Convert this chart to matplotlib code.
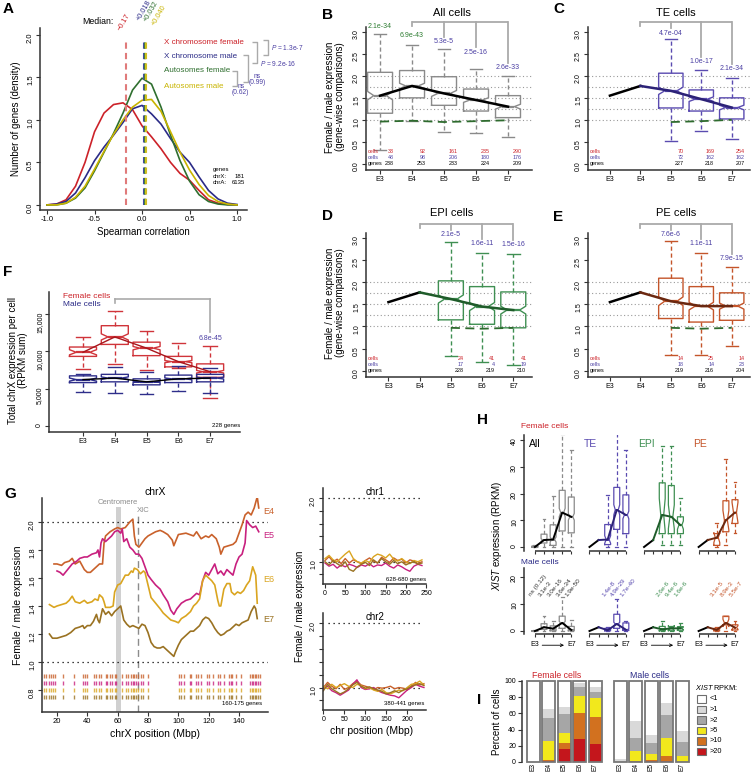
import numpy as np
import matplotlib
matplotlib.use("Agg")
import matplotlib.pyplot as plt
import matplotlib.transforms as mtransforms
from matplotlib.patches import Rectangle

plt.rcParams['font.family'] = ['Liberation Sans', 'DejaVu Sans']
plt.rcParams['mathtext.fontset'] = 'custom'
plt.rcParams['mathtext.rm'] = 'Liberation Sans'
plt.rcParams['mathtext.it'] = 'Liberation Sans:italic'
plt.rcParams['axes.unicode_minus'] = False

# ======================= DATA =======================
stages = ["E3", "E4", "E5", "E6", "E7"]
stage_x = [1, 2, 3, 4, 5]

# ---- Panel A: density of Spearman correlations ----
dens_x = [-1.0, -0.9, -0.8, -0.7, -0.6, -0.5, -0.4, -0.3, -0.2, -0.1, 0.0,
          0.1, 0.2, 0.3, 0.4, 0.5, 0.6, 0.7, 0.8, 0.9, 1.0]
dens_x_female = [0.0, 0.01, 0.06, 0.22, 0.50, 0.86, 1.08, 1.18, 1.20, 1.12, 0.93,
                 0.80, 0.66, 0.50, 0.37, 0.29, 0.17, 0.06, 0.02, 0.005, 0.0]
dens_x_male = [0.0, 0.01, 0.04, 0.14, 0.32, 0.52, 0.68, 0.82, 0.97, 1.13, 1.17,
               1.07, 0.95, 0.78, 0.62, 0.50, 0.33, 0.17, 0.07, 0.02, 0.005]
dens_a_female = [0.0, 0.0, 0.02, 0.08, 0.20, 0.40, 0.62, 0.84, 1.08, 1.35, 1.49,
                 1.42, 1.15, 0.82, 0.52, 0.28, 0.12, 0.04, 0.01, 0.0, 0.0]
dens_a_male = [0.0, 0.0, 0.02, 0.09, 0.22, 0.42, 0.63, 0.83, 1.00, 1.15, 1.23,
               1.24, 1.10, 0.86, 0.62, 0.41, 0.24, 0.11, 0.04, 0.01, 0.0]
medians_A = [-0.17, 0.018, 0.032, 0.040]
median_labels_A = ["\u22120.17", "+0.018", "+0.032", "+0.040"]
legend_A = ["X chromosome female", "X chromosome male", "Autosomes female", "Autosomes male"]

# ---- Panels B-E: female/male ratio boxplots ----
ratio_grid = [1.0, 1.25, 1.5, 1.75, 2.0]
B_lo = [0.32, 0.98, 0.72, 0.70, 0.60]
B_q1 = [1.15, 1.50, 1.33, 1.20, 1.05]
B_med = [1.55, 1.77, 1.60, 1.45, 1.30]
B_q3 = [2.08, 2.12, 1.98, 1.70, 1.55]
B_hi = [2.95, 2.70, 2.60, 2.15, 2.00]
B_auto = [0.96, 0.98, 0.95, 0.97, 0.99]
B_pval = ["2.1e-34", "6.9e-43", "5.3e-5", "2.5e-16", "2.6e-33"]
B_cells_f = [33, 92, 161, 235, 290]
B_cells_m = [48, 98, 206, 180, 176]
B_genes = [238, 253, 233, 224, 209]

C_lo = [0.52, 0.75, 0.57]
C_q1 = [1.27, 1.20, 1.02]
C_med = [1.66, 1.47, 1.28]
C_q3 = [2.06, 1.68, 1.50]
C_hi = [2.83, 2.13, 1.95]
C_auto = [0.95, 0.97, 1.00]
C_pval = ["4.7e-04", "1.0e-17", "2.1e-34"]
C_cells_f = [70, 169, 254]
C_cells_m = [72, 162, 162]
C_genes = [227, 218, 207]

D_lo = [0.34, 0.20, 0.13]
D_q1 = [1.15, 1.05, 0.97]
D_med = [1.62, 1.45, 1.37]
D_q3 = [2.03, 1.90, 1.78]
D_hi = [2.90, 2.66, 2.63]
D_auto = [0.97, 0.95, 0.97]
D_pval = ["2.1e-5", "1.6e-11", "1.5e-16"]
D_cells_f = [24, 41, 41]
D_cells_m = [17, 4, 19]
D_genes = [228, 219, 210]

E_lo = [0.35, 0.35, 0.56]
E_q1 = [1.18, 1.10, 1.14]
E_med = [1.57, 1.46, 1.46]
E_q3 = [2.09, 1.90, 1.76]
E_hi = [2.92, 2.66, 2.34]
E_auto = [0.97, 0.95, 0.97]
E_pval = ["7.6e-6", "1.1e-11", "7.9e-15"]
E_cells_f = [14, 25, 14]
E_cells_m = [18, 14, 23]
E_genes = [219, 216, 204]

# ---- Panel F: total chrX expression per cell ----
F_f_lo = [7600, 8300, 7500, 7700, 3700]
F_f_q1 = [9300, 10900, 9400, 7900, 6500]
F_f_med = [9850, 11900, 10400, 8600, 7250]
F_f_q3 = [10550, 13400, 11200, 9300, 8300]
F_f_hi = [11900, 15400, 12700, 11050, 10650]
F_m_lo = [4600, 4400, 4300, 4700, 4400]
F_m_q1 = [5800, 5900, 5500, 5800, 5900]
F_m_med = [6200, 6400, 5900, 6300, 6400]
F_m_q3 = [6700, 6900, 6300, 6800, 6900]
F_m_hi = [6900, 7900, 7200, 8000, 7800]
F_pval = "6.8e-45"

# ---- Panel G: chrX sliding-window ratio ----
G_E4_x = [18, 20, 23, 25, 28, 30, 32, 35, 38, 40, 42, 45, 48, 50, 51, 52, 55, 58, 60, 62,
          65, 68, 70, 71, 72, 74, 76, 78, 80, 85, 88, 90, 93, 96, 97, 100, 105, 110, 112, 115,
          118, 120, 122, 125, 127, 128, 130, 133, 136, 138, 140, 142, 144, 146, 148, 150, 152, 153]
G_E4_y = [1.70, 1.70, 1.69, 1.71, 1.72, 1.74, 1.70, 1.72, 1.66, 1.64, 1.64, 1.67, 1.70, 1.70, 1.85, 1.90, 1.93, 1.95, 1.96, 1.95,
          1.96, 2.00, 2.02, 1.90, 1.84, 1.82, 1.85, 1.88, 1.90, 1.93, 1.94, 1.93, 1.91, 1.87, 1.83, 1.91, 1.92, 1.90, 1.93, 1.88,
          1.90, 1.89, 1.91, 1.88, 1.82, 1.77, 1.82, 1.83, 1.84, 1.86, 1.92, 1.98, 2.05, 2.07, 2.05, 2.10, 2.18, 2.10]
G_E5_x = [20, 22, 24, 27, 30, 33, 35, 38, 40, 43, 46, 47, 48, 49, 50, 52, 54, 56, 58, 60,
          62, 63, 64, 66, 68, 70, 72, 74, 76, 78, 80, 82, 85, 88, 90, 93, 95, 97, 99, 102,
          105, 108, 110, 112, 114, 116, 118, 120, 122, 124, 126, 128, 130, 132, 134, 136, 138, 140, 142, 144,
          145, 147, 149, 151, 153]
G_E5_y = [1.65, 1.64, 1.62, 1.66, 1.70, 1.72, 1.74, 1.75, 1.75, 1.77, 1.78, 1.80, 1.75, 1.85, 1.88, 1.86, 1.88, 1.90, 1.93, 1.94,
          1.92, 1.95, 1.86, 1.88, 1.82, 1.80, 1.77, 1.77, 1.74, 1.68, 1.62, 1.59, 1.55, 1.52, 1.48, 1.43, 1.37, 1.34, 1.38, 1.42,
          1.44, 1.45, 1.47, 1.49, 1.48, 1.58, 1.64, 1.62, 1.66, 1.70, 1.63, 1.65, 1.62, 1.66, 1.64, 1.62, 1.70, 1.75, 1.77, 1.85,
          2.01, 1.98, 1.96, 1.97, 1.93]
G_E6_x = [15, 18, 20, 23, 26, 28, 30, 32, 35, 38, 40, 43, 45, 47, 48, 50, 51, 52, 55, 57,
          58, 60, 62, 64, 65, 67, 69, 70, 71, 73, 75, 77, 78, 80, 82, 85, 88, 90, 93, 95,
          98, 100, 102, 105, 108, 110, 112, 114, 116, 118, 120, 122, 124, 126, 127, 128, 130, 132, 134, 135,
          137, 139, 141, 143, 145, 147, 149, 151, 152]
G_E6_y = [1.41, 1.39, 1.40, 1.41, 1.42, 1.44, 1.47, 1.43, 1.42, 1.44, 1.42, 1.43, 1.45, 1.44, 1.48, 1.46, 1.43, 1.39, 1.39, 1.40,
          1.50, 1.55, 1.56, 1.60, 1.62, 1.62, 1.65, 1.64, 1.67, 1.66, 1.63, 1.65, 1.64, 1.55, 1.46, 1.42, 1.38, 1.35, 1.32, 1.30,
          1.29, 1.28, 1.31, 1.33, 1.36, 1.40, 1.42, 1.45, 1.58, 1.62, 1.60, 1.58, 1.55, 1.44, 1.40, 1.40, 1.52, 1.56, 1.56, 1.50,
          1.48, 1.50, 1.49, 1.51, 1.55, 1.58, 1.68, 1.62, 1.42]
G_E7_x = [15, 17, 20, 23, 26, 29, 32, 35, 37, 38, 40, 42, 44, 46, 47, 48, 50, 52, 54, 56,
          58, 60, 62, 64, 66, 68, 70, 72, 74, 76, 78, 80, 82, 84, 86, 88, 90, 93, 96, 97,
          98, 100, 102, 104, 106, 108, 110, 112, 114, 116, 118, 120, 122, 124, 126, 128, 130, 132, 134, 136,
          138, 140, 142, 144, 146, 148, 150, 151, 152]
G_E7_y = [1.20, 1.17, 1.17, 1.18, 1.19, 1.21, 1.24, 1.25, 1.26, 1.24, 1.26, 1.26, 1.29, 1.34, 1.30, 1.28, 1.38, 1.34, 1.36, 1.33,
          1.36, 1.38, 1.40, 1.30, 1.27, 1.25, 1.26, 1.25, 1.24, 1.27, 1.26, 1.21, 1.14, 1.11, 1.10, 1.10, 1.11, 1.08, 1.05, 1.04,
          1.07, 1.12, 1.16, 1.18, 1.20, 1.22, 1.22, 1.24, 1.26, 1.30, 1.32, 1.31, 1.28, 1.24, 1.21, 1.19, 1.20, 1.22, 1.23, 1.25,
          1.27, 1.26, 1.28, 1.29, 1.30, 1.36, 1.40, 1.38, 1.31]
gene_pos = [11.5, 13, 14.5, 16, 17.5, 19, 24, 31, 37, 38.5, 40, 44.4, 46, 48, 49.2, 52, 53, 54.7, 56, 58,
            59, 63, 65.3, 66.8, 69, 70, 71, 72.3, 73.4, 75.6, 76.7, 80, 100.4, 102, 103.5, 107.5, 108.6, 111.9,
            113, 115, 119, 120, 122.9, 126, 127.2, 130, 133.4, 134.5, 135.6, 138, 141.5, 147.5, 148.5, 149.5,
            150.5, 151.5, 152.5, 153.5]
gene_rows = [0.90, 0.85, 0.80, 0.75]

chr_pos = [0, 10, 20, 30, 40, 50, 60, 70, 80, 90, 100, 110, 120, 130, 140, 150, 160, 170, 180, 190,
           200, 210, 220, 230, 240]
chr1_E4 = [1.02, 1.08, 1.00, 1.04, 0.97, 1.05, 0.98, 1.03, 1.00, 0.97, 1.02, 1.06, 1.01, 0.98, 1.07, 1.03, 0.99, 1.06, 1.02, 1.04, 0.98, 1.03, 1.01, 0.97, 1.00]
chr1_E5 = [0.98, 0.93, 0.96, 0.90, 0.95, 0.92, 0.96, 0.94, 0.91, 0.95, 0.93, 0.97, 0.92, 0.95, 0.94, 0.98, 0.93, 0.90, 0.95, 0.92, 0.88, 0.85, 0.93, 0.96, 0.94]
chr1_E6 = [1.05, 1.10, 1.03, 1.00, 1.06, 1.12, 1.17, 1.05, 1.00, 0.98, 1.02, 0.99, 1.08, 1.12, 1.10, 1.06, 1.12, 1.04, 1.01, 1.05, 1.00, 0.97, 1.02, 1.00, 1.03]
chr1_E7 = [1.00, 0.95, 1.02, 0.97, 0.93, 1.00, 0.88, 0.85, 0.92, 0.96, 0.99, 0.94, 1.03, 0.98, 1.05, 1.00, 0.96, 1.02, 0.97, 1.00, 0.95, 0.98, 1.00, 0.96, 0.98]
chr2_E4 = [1.00, 1.08, 1.02, 0.98, 1.05, 0.97, 1.00, 1.06, 1.10, 1.04, 1.02, 1.00, 0.97, 1.00, 0.99, 1.00, 1.02, 0.98, 1.00, 0.99, 0.96, 1.02, 1.08, 1.04, 1.06]
chr2_E5 = [0.98, 1.02, 0.95, 0.92, 0.88, 0.92, 0.96, 1.05, 1.12, 1.00, 0.97, 0.98, 1.00, 0.95, 0.92, 0.90, 0.88, 0.87, 0.84, 0.90, 0.96, 1.00, 1.05, 1.02, 1.00]
chr2_E6 = [1.02, 0.98, 1.05, 1.00, 1.03, 1.06, 1.02, 1.00, 1.05, 1.03, 0.98, 1.00, 0.96, 0.94, 0.97, 0.92, 0.90, 0.93, 0.96, 0.95, 1.00, 1.05, 1.06, 1.10, 1.04]
chr2_E7 = [0.95, 1.05, 0.98, 0.94, 0.90, 0.93, 0.98, 1.04, 1.08, 1.02, 0.99, 1.01, 0.98, 0.96, 0.94, 0.90, 0.92, 0.95, 0.92, 0.96, 0.98, 1.02, 1.04, 1.06, 1.03]

# ---- Panel H: XIST expression ----
H_groups = ["All", "TE", "EPI", "PE"]
Hf_all = dict(lo=[0, 0, 0, 0, 0], q1=[0, 1.5, 0.6, 6.0, 5.3], med=[0, 2.6, 2.8, 12.9, 11.3],
              q3=[0.4, 4.8, 8.3, 21.2, 18.7], hi=[0.6, 10.3, 19.2, 42.2, 36.3])
Hf_te = dict(lo=[0, 0, 0], q1=[0.9, 6.6, 5.0], med=[2.8, 13.9, 12.0], q3=[8.4, 22.3, 19.5], hi=[19.5, 44.8, 36.3])
Hf_epi = dict(lo=[0.9, 0.9, 0.9], q1=[5.0, 5.0, 5.0], med=[12.0, 11.3, 8.2], q3=[24.0, 23.0, 11.3], hi=[37.6, 37.6, 18.4])
Hf_pe = dict(lo=[0, 0.6, 5.4], q1=[0.6, 5.7, 8.8], med=[3.5, 10.0, 12.9], q3=[5.0, 17.3, 17.7], hi=[8.8, 33.0, 24.2])
Hm_all = dict(lo=[0, 0, 0, 0, 0], q1=[0, 0.6, 0.1, 1.0, 0.1], med=[0, 1.4, 0.9, 3.0, 0.4],
              q3=[0.1, 2.7, 1.9, 5.5, 1.7], hi=[0.3, 5.5, 3.6, 12.6, 4.2])
Hm_te = dict(lo=[0, 0, 0], q1=[0.1, 1.0, 0.4], med=[0.3, 2.6, 0.5], q3=[1.0, 6.2, 3.0], hi=[1.6, 11.9, 3.6])
Hm_epi = dict(lo=[0, 0, 0], q1=[0.1, 0.3, 0.3], med=[0.6, 1.0, 1.0], q3=[1.7, 1.6, 1.6], hi=[3.6, 1.7, 3.0])
Hm_pe = dict(lo=[0, 0, 0], q1=[0.1, 2.3, 0.4], med=[0.4, 3.0, 1.3], q3=[1.0, 5.5, 2.3], hi=[1.5, 5.5, 3.6])
Hm_pval_all = ["ns (0.12)", "3.1e-3", "3.0e-16", "3.6e-34", "1.9e-50"]
Hm_pval_te = ["1.4e-8", "4.9e-29", "1.7e-40"]
Hm_pval_epi = ["2.6e-6", "9.4e-6", "1.6e-6"]
Hm_pval_pe = ["3.1e-5", "8.9e-3", "5.5e-7"]

# ---- Panel I: percent of cells by XIST RPKM ----
I_labels = ["E3", "E4", "E5", "E6", "E7", "E3", "E4", "E5", "E6", "E7"]
I_gt20 = [0, 1.5, 16, 28, 22, 0, 0.5, 1, 1, 0]
I_gt10 = [0, 1.5, 7, 32, 33, 0, 0.5, 2, 6, 0.5]
I_gt5 = [0, 23, 13, 21, 24, 0, 13, 7, 22, 6.5]
I_gt2 = [0, 28, 23, 12, 8, 0, 15, 13, 29, 18]
I_gt1 = [0, 11, 9, 4, 5, 4, 21, 10, 15, 13]
I_lt1 = [100, 35, 32, 3, 8, 96, 50, 67, 27, 62]
I_cat_names = [">20", ">10", ">5", ">2", ">1", "<1"]

# ======================= STYLE =======================
C_XF = '#cc2229'; C_XM = '#2b2b87'; C_AF = '#2f6f2f'; C_AM = '#c8b400'
C_PB = '#4b3fa3'; C_PG = '#2e7d32'
C_GRAY = '#8a8a8a'
TE_C, TE_L = '#5a4bb0', '#2c2277'
EPI_C, EPI_L = '#3f8f52', '#1f5c2a'
PE_C, PE_L = '#c4552a', '#6b2810'
AUTO_C = '#2e6b2e'
GE4, GE5, GE6, GE7 = '#c9612b', '#c8207f', '#daa520', '#9a7222'
SP = '#333333'
BR = '#aaaaaa'
DASH = (0, (3, 2))

W, H = 754, 774
fig = plt.figure(figsize=(W / 100, H / 100), dpi=100)


def axpx(x0, y0, x1, y1):
    return fig.add_axes([x0 / W, 1 - y1 / H, (x1 - x0) / W, (y1 - y0) / H])


def rstyle(ax, ysize=5.0, xsize=5.0, yrot=90):
    for s in ('top', 'right'):
        ax.spines[s].set_visible(False)
    for s in ('left', 'bottom'):
        ax.spines[s].set_linewidth(1.1)
        ax.spines[s].set_color(SP)
    ax.tick_params(direction='out', length=2.8, width=0.8, color=SP, pad=1.5)
    ax.tick_params(axis='y', labelsize=ysize, labelrotation=yrot)
    ax.tick_params(axis='x', labelsize=xsize)


def draw_boxes(ax, pos, lo, q1, med, q3, hi, n, color, width=0.78, lw=1.0):
    stats = []
    for i in range(len(pos)):
        half = 1.58 * (q3[i] - q1[i]) / np.sqrt(n[i])
        stats.append(dict(med=med[i], q1=q1[i], q3=q3[i], whislo=lo[i], whishi=hi[i],
                          cilo=med[i] - half, cihi=med[i] + half, fliers=[]))
    ax.bxp(stats, positions=pos, widths=width, shownotches=True, showfliers=False,
           boxprops=dict(color=color, lw=lw), whiskerprops=dict(color=color, lw=lw, ls=DASH),
           capprops=dict(color=color, lw=lw), medianprops=dict(color=color, lw=lw * 1.6),
           manage_ticks=False)


# overlay for free text in pixel coordinates
ov = fig.add_axes([0, 0, 1, 1], zorder=20)
ov.set_xlim(0, W); ov.set_ylim(H, 0); ov.axis('off'); ov.patch.set_visible(False)


def T(x, y, s, size=6, color='black', ha='center', va='center', **kw):
    ov.text(x, y, s, fontsize=size, color=color, ha=ha, va=va, **kw)


def L(xs, ys, color=BR, lw=1.0):
    ov.plot(xs, ys, color=color, lw=lw, solid_capstyle='butt')


for lab, (x, y) in zip("ABCDEFGHI", [(3, 9), (322, 15), (553, 9), (322, 216), (553, 217),
                                      (3, 272), (4, 494), (477, 420), (477, 700)]):
    T(x, y, lab, size=11, weight='bold', ha='left')

# ======================= PANEL A =======================
axA = axpx(40, 28, 247, 210)
rstyle(axA, ysize=5.5, xsize=5.5)
axA.set_xlim(-1.074, 1.105); axA.set_ylim(-0.06, 2.08)
for ys, c in ((dens_x_female, C_XF), (dens_x_male, C_XM), (dens_a_female, C_AF), (dens_a_male, C_AM)):
    axA.plot(dens_x, ys, color=c, lw=1.2)
med_cols = ['#e07a7a', '#4848a8', '#3c7d3c', '#d0be20']
for m, c in zip(medians_A, med_cols):
    axA.plot([m, m], [0, 1.94], color=c, lw=1.5, ls=(0, (3, 2)))
medlab_x = [-0.195, 0.026, 0.10, 0.179]
medlab_y = [2.035, 2.153, 2.141, 2.094]
for lx, ly, s, c in zip(medlab_x, medlab_y, median_labels_A, [C_XF, C_XM, C_AF, C_AM]):
    axA.text(lx, ly, s, rotation=60, ha='center', va='bottom', fontsize=5.3, color=c, clip_on=False)
axA.set_xticks([-1.0, -0.5, 0.0, 0.5, 1.0], labels=["-1.0", "-0.5", "0.0", "0.5", "1.0"])
axA.set_yticks([0, 0.5, 1.0, 1.5, 2.0], labels=["0.0", "0.5", "1.0", "1.5", "2.0"])
axA.set_xlabel("Spearman correlation", fontsize=7, labelpad=3)
axA.set_ylabel("Number of genes (density)", fontsize=7, labelpad=4)
T(98, 22, "Median:", size=6.3)
for s, c, y in zip(legend_A, [C_XF, C_XM, C_AF, C_AM], [42, 57, 71, 86]):
    T(164, y, s, size=5.8, color=c, ha='left')
# significance brackets
L([232, 236.5, 236.5, 232], [71, 71, 86, 86])
T(238, 86, "ns", size=4.8, color=C_PB, ha='left')
T(240.5, 93, "(0.62)", size=4.8, color=C_PB)
L([243, 248, 248, 243], [55, 55, 82, 82])
T(257, 76, "ns", size=4.8, color=C_PB)
T(257, 83, "(0.99)", size=4.8, color=C_PB)
L([252, 257, 257, 252], [42, 42, 63, 63])
T(260, 63, r"$P$ = 9.2e-16", size=4.8, color=C_PB, ha='left')
L([263, 268, 268, 263], [40, 40, 55, 55])
T(271, 48, r"$P$ = 1.3e-7", size=4.8, color=C_PB, ha='left')
T(213, 170, "genes", size=4.3, ha='left')
T(213, 176, "chrX:", size=4.3, ha='left'); T(245, 176, "181", size=4.3, ha='right')
T(213, 182, "chrA:", size=4.3, ha='left'); T(245, 182, "6135", size=4.3, ha='right')


# ======================= PANELS B-E =======================
def ratio_panel(rect, xlim, box_pos, lo, q1, med, q3, hi, n, bcol, tcol, auto, pv, pvcol,
                pvy, bracket_y, cf, cm, gn, title, width):
    ax = axpx(*rect)
    rstyle(ax)
    ax.set_xlim(*xlim); ax.set_ylim(-0.14, 3.11)
    for v in ratio_grid:
        ax.axhline(v, color='#9a9a9a', ls=(0, (1, 2.2)), lw=0.8, zorder=0)
    draw_boxes(ax, box_pos, lo, q1, med, q3, hi, n, bcol, width=width)
    if len(box_pos) == 5:
        ax.plot(box_pos, med, color='black', lw=1.8, zorder=5)
    else:
        ax.plot(stage_x[:2], B_med[:2], color='black', lw=1.8, zorder=5)
        ax.plot([stage_x[1]] + box_pos, [B_med[1]] + med, color=tcol, lw=1.8, zorder=5)
    ax.plot(box_pos, auto, color=AUTO_C, lw=1.3, ls=(0, (5, 3)), zorder=4)
    for x, s, c, y in zip(box_pos, pv, pvcol, pvy):
        ax.text(x, y, s, fontsize=5, color=c, ha='center', va='center', clip_on=False)
    # comparison bracket
    ax.plot([stage_x[1], stage_x[4]], [bracket_y, bracket_y], color=BR, lw=1.3, clip_on=False,
            solid_capstyle='butt')
    ax.plot([stage_x[1], stage_x[1]], [bracket_y, bracket_y - 0.1], color=BR, lw=1.3, clip_on=False)
    for x, y in zip(box_pos, pvy):
        if x > stage_x[1]:
            ax.plot([x, x], [bracket_y, y + 0.11], color=BR, lw=1.3, clip_on=False)
    tr = mtransforms.blended_transform_factory(ax.transAxes, ax.transData)
    for lab, c, y in (("cells", C_XF, 0.28), ("cells", C_PB, 0.14), ("genes", 'black', 0.0)):
        ax.text(0.012, y, lab, transform=tr, fontsize=3.9, color=c, ha='left', va='center')
    for x, a, b, g in zip(box_pos, cf, cm, gn):
        ax.text(x + 0.42, 0.28, str(a), fontsize=3.9, color=C_XF, ha='right', va='center')
        ax.text(x + 0.42, 0.14, str(b), fontsize=3.9, color=C_PB, ha='right', va='center')
        ax.text(x + 0.42, 0.0, str(g), fontsize=3.9, color='black', ha='right', va='center')
    ax.set_xticks(stage_x, labels=stages)
    ax.set_yticks([0, 0.5, 1.0, 1.5, 2.0, 2.5, 3.0],
                  labels=["0.0", "0.5", "1.0", "1.5", "2.0", "2.5", "3.0"])
    T(title[1], title[2], title[0], size=8)
    return ax


ratio_panel((366, 27, 532, 170), (0.56, 5.75), stage_x, B_lo, B_q1, B_med, B_q3, B_hi, B_genes,
            C_GRAY, 'black', B_auto, B_pval, [C_PG, C_PG, C_PB, C_PB, C_PB],
            [3.12, 2.91, 2.78, 2.54, 2.18], 3.23, B_cells_f, B_cells_m, B_genes,
            ("All cells", 452, 13), 0.78)
ratio_panel((588, 27, 750, 170), (0.28, 5.6), stage_x[2:], C_lo, C_q1, C_med, C_q3, C_hi, C_genes,
            TE_C, TE_L, C_auto, C_pval, [C_PB] * 3, [2.97, 2.32, 2.16], 3.23,
            C_cells_f, C_cells_m, C_genes, ("TE cells", 676, 13), 0.8)
ratio_panel((366, 233, 532, 377), (0.28, 5.6), stage_x[2:], D_lo, D_q1, D_med, D_q3, D_hi, D_genes,
            EPI_C, EPI_L, D_auto, D_pval, [C_PB] * 3, [3.07, 2.87, 2.85], 3.32,
            D_cells_f, D_cells_m, D_genes, ("EPI cells", 452, 213), 0.8)
ratio_panel((588, 233, 750, 377), (0.28, 5.6), stage_x[2:], E_lo, E_q1, E_med, E_q3, E_hi, E_genes,
            PE_C, PE_L, E_auto, E_pval, [C_PB] * 3, [3.07, 2.87, 2.53], 3.32,
            E_cells_f, E_cells_m, E_genes, ("PE cells", 676, 213), 0.8)
T(335, 97, "Female / male expression\n(gene-wise comparisons)", size=7, rotation=90, linespacing=1.1)
T(335, 303, "Female / male expression\n(gene-wise comparisons)", size=7, rotation=90, linespacing=1.1)

# ======================= PANEL F =======================
axF = axpx(49, 292, 240, 432)
rstyle(axF)
axF.set_xlim(-0.07, 5.94); axF.set_ylim(-800, 17900)
draw_boxes(axF, stage_x, F_f_lo, F_f_q1, F_f_med, F_f_q3, F_f_hi, B_cells_f, '#d0343a', width=0.85)
draw_boxes(axF, stage_x, F_m_lo, F_m_q1, F_m_med, F_m_q3, F_m_hi, B_cells_m, '#2e2e8a', width=0.85)
axF.plot(stage_x, F_f_med, color='#a8161c', lw=1.0, zorder=5)
axF.plot(stage_x, F_m_med, color='black', lw=1.0, zorder=5)
axF.plot([2, 5], [17000, 17000], color=BR, lw=1.2, clip_on=False)
axF.plot([2, 2], [17000, 16400], color=BR, lw=1.2, clip_on=False)
axF.plot([5, 5], [17000, 12600], color=BR, lw=1.2, clip_on=False)
axF.text(5, 11650, F_pval, fontsize=5, color=C_PB, ha='center', va='center')
axF.set_xticks(stage_x, labels=stages)
axF.set_yticks([0, 5000, 10000, 15000], labels=["0", "5,000", "10,000", "15,000"])
T(63, 296, "Female cells", size=6, color=C_XF, ha='left')
T(63, 304, "Male cells", size=6, color=C_XM, ha='left')
T(240, 425, "228 genes", size=4.3, ha='right')
T(18, 360, "Total chrX expression per cell\n(RPKM sum)", size=7, rotation=90, linespacing=1.1)

# ======================= PANEL G =======================
axG = axpx(42, 498, 268, 712)
rstyle(axG, ysize=5.5, xsize=5.5)
axG.set_xlim(10.1, 159.1); axG.set_ylim(0.643, 2.171)
axG.axvspan(58.8, 62.2, ymax=0.96, color='#d0d0d0', lw=0, zorder=0)
axG.plot([73.4, 73.4], [0.643, 2.06], color='#8c8c8c', lw=1.0, ls=(0, (5, 3)))
axG.axhline(2.0, color='black', ls=(0, (1, 3)), lw=0.9)
axG.axhline(1.0, color='black', ls=(0, (1, 3)), lw=0.9)
for xs, ys, c in ((G_E4_x, G_E4_y, GE4), (G_E5_x, G_E5_y, GE5), (G_E6_x, G_E6_y, GE6), (G_E7_x, G_E7_y, GE7)):
    axG.plot(xs, ys, color=c, lw=1.2)
for ry, c in zip(gene_rows, (GE4, GE5, GE6, GE7)):
    axG.vlines(gene_pos, ry - 0.017, ry + 0.017, color=c, lw=1.0, alpha=0.8)
axG.set_xticks([20, 40, 60, 80, 100, 120, 140])
axG.set_yticks([0.8, 1.0, 1.2, 1.4, 1.6, 1.8, 2.0], labels=["0.8", "1.0", "1.2", "1.4", "1.6", "1.8", "2.0"])
axG.set_xlabel("chrX position (Mbp)", fontsize=7.5, labelpad=3)
axG.set_ylabel("Female / male expression", fontsize=7.5, labelpad=4)
T(155, 492, "chrX", size=7.5)
T(118, 502, "Centromere", size=5.5, color='#8c8c8c')
T(143, 510, "XIC", size=5.5, color='#8c8c8c')
for s, c, y in (("E4", GE4, 512), ("E5", GE5, 535), ("E6", GE6, 580), ("E7", GE7, 619)):
    T(269, y, s, size=6.5, color=c)
T(262, 704, "160-175 genes", size=4.3, ha='right')

for rect, xl, xt, series, ttl, gtxt in (
        ((323, 488, 426, 584), (-5, 250), [0, 50, 100, 150, 200, 250],
         (chr1_E4, chr1_E5, chr1_E6, chr1_E7), ("chr1", 375, 492), ("628-680 genes", 426, 580)),
        ((323, 613, 426, 710), (-1, 245), [0, 50, 100, 150, 200],
         (chr2_E4, chr2_E5, chr2_E6, chr2_E7), ("chr2", 375, 617), ("380-441 genes", 424, 704))):
    axc = axpx(*rect)
    rstyle(axc)
    axc.set_xlim(*xl); axc.set_ylim(0.65, 2.16)
    axc.axhline(2.0, xmin=0.05, xmax=0.97, color='black', ls=(0, (1, 3)), lw=0.9)
    axc.axhline(1.0, xmin=0.05, xmax=0.97, color='black', ls=(0, (1, 3)), lw=0.9)
    for ys, c in zip(series, (GE4, GE5, GE6, GE7)):
        axc.plot(chr_pos, ys, color=c, lw=1.0)
    axc.set_xticks(xt)
    axc.set_yticks([0.8, 1.0, 1.2, 1.4, 1.6, 1.8, 2.0], labels=["", "1.0", "", "", "", "", "2.0"])
    T(ttl[1], ttl[2], ttl[0], size=7)
    T(gtxt[1], gtxt[2], gtxt[0], size=4.3, ha='right')
T(300, 606, "Female / male expression", size=7, rotation=90)
T(372, 731, "chr position (Mbp)", size=7.5)

# ======================= PANEL H =======================
group_off = [0, 6, 12, 18]
grp_cols = [C_GRAY, TE_C, EPI_C, PE_C]
grp_lcols = ['black', TE_L, EPI_L, PE_L]
grp_text_cols = ['black', TE_C, EPI_C, PE_C]
f_sets = [Hf_all, Hf_te, Hf_epi, Hf_pe]
m_sets = [Hm_all, Hm_te, Hm_epi, Hm_pe]
f_n = [B_cells_f, C_cells_f, D_cells_f, E_cells_f]
m_n = [B_cells_m, C_cells_m, D_cells_m, E_cells_m]
m_pv = [Hm_pval_all, Hm_pval_te, Hm_pval_epi, Hm_pval_pe]


def h_axes(rect, ylim, yt, sets, ns):
    ax = axpx(*rect)
    rstyle(ax)
    ax.spines['bottom'].set_visible(False)
    ax.set_xlim(-1.2, 23.1); ax.set_ylim(*ylim)
    allpos = []
    for g, off in enumerate(group_off):
        pos = [off + i for i in range(5)]
        allpos += pos
        ax.plot([pos[0], pos[-1]], [ylim[0], ylim[0]], color=SP, lw=1.1, clip_on=False,
                solid_capstyle='butt')
        d = sets[g]
        bpos = pos if g == 0 else pos[2:]
        draw_boxes(ax, bpos, d['lo'], d['q1'], d['med'], d['q3'], d['hi'], ns[g], grp_cols[g],
                   width=0.65, lw=0.9)
        if g == 0:
            ax.plot(pos, d['med'], color='black', lw=1.4, zorder=5)
        else:
            head = sets[0]['med'][:2]
            ax.plot(pos[:2], head, color='black', lw=1.4, zorder=5)
            ax.plot([pos[1]] + bpos, [head[1]] + d['med'], color=grp_lcols[g], lw=1.4, zorder=5)
    ax.set_xticks(allpos, labels=[""] * len(allpos))
    ax.tick_params(axis='x', length=2.5)
    ax.set_yticks(yt, labels=[str(v) for v in yt])
    return ax


axHf = h_axes((524, 435, 745, 551), (-1.5, 41.9), [0, 10, 20, 30, 40], f_sets, f_n)
for g, off in enumerate(group_off):
    axHf.text(off - 0.6, 38.5, H_groups[g], fontsize=7.5, color=grp_text_cols[g], ha='left', va='center')
axHm = h_axes((524, 568, 745, 634), (-1.1, 23.3), [0, 10, 20], m_sets, m_n)
trm = mtransforms.blended_transform_factory(axHm.transData, axHm.transAxes)
for g, off in enumerate(group_off):
    axHm.text(off, -0.1, "E3", transform=trm, fontsize=5, ha='center', va='top')
    axHm.text(off + 4, -0.1, "E7", transform=trm, fontsize=5, ha='center', va='top')
    axHm.annotate("", xy=(off + 3.2, -0.17), xytext=(off + 0.8, -0.17), xycoords=trm,
                  textcoords=trm, arrowprops=dict(arrowstyle='->', lw=0.6, color='black',
                                                  shrinkA=0, shrinkB=0, mutation_scale=5))
    pv = m_pv[g]
    first = 0 if g == 0 else 2
    for i, s in enumerate(pv):
        axHm.text(off + first + i - 0.3, 12.5, s, fontsize=4.6, color=grp_text_cols[g] if g else '#333333',
                  rotation=52, rotation_mode='anchor', ha='left', va='bottom', clip_on=False)
T(545, 426, "Female cells", size=6, color=C_XF)
T(540, 563, "Male cells", size=6, color=C_XM)
T(497, 536, r"$\it{XIST}$ expression (RPKM)", size=7, rotation=90)

# ======================= PANEL I =======================
axI = axpx(522, 678, 690, 767)
rstyle(axI, yrot=0)
axI.spines['bottom'].set_visible(False)
axI.spines['left'].set_bounds(0, 100)
axI.set_xlim(-0.74, 10.1); axI.set_ylim(-6.2, 103.7)
I_pos = [0, 1, 2, 3, 4, 5.6, 6.6, 7.6, 8.6, 9.6]
I_cols = ['#c4161c', '#d2711f', '#f2e81c', '#a6a6a6', '#d9d9d9', '#ffffff']
I_w = 0.84
for j, x in enumerate(I_pos):
    base = 0.0
    for vals, c in zip((I_gt20, I_gt10, I_gt5, I_gt2, I_gt1, I_lt1), I_cols):
        v = vals[j]
        if v > 0:
            axI.add_patch(Rectangle((x - I_w / 2, base), I_w, v, facecolor=c, edgecolor='none',
                                    linewidth=0, zorder=2))
        base += v
    axI.add_patch(Rectangle((x - I_w / 2, 0), I_w, base, facecolor='none', edgecolor='#777777',
                            linewidth=1.3, zorder=3))
axI.set_xticks([])
axI.set_yticks([0, 20, 40, 60, 80, 100], labels=["0", "20", "40", "60", "80", "100"])
for x, s in zip(I_pos, I_labels):
    axI.text(x, -1.2, s, rotation=90, fontsize=4.8, ha='center', va='top', clip_on=False)
T(557, 675, "Female cells", size=6.3, color=C_XF)
T(650, 675, "Male cells", size=6.3, color=C_XM)
T(497, 722, "Percent of cells", size=7, rotation=90)
T(695, 687, r"$\it{XIST}$ RPKM:", size=5.3, ha='left')
for k, (name, c) in enumerate(zip(I_cat_names[::-1], I_cols[::-1])):
    y = 699 + k * 10.5
    ov.add_patch(Rectangle((697, y - 3.8), 9, 7.6, facecolor=c, edgecolor='#6e6e6e', lw=0.8))
    T(710, y, name, size=5.3, ha='left')

fig.savefig("out.png", dpi=100)
